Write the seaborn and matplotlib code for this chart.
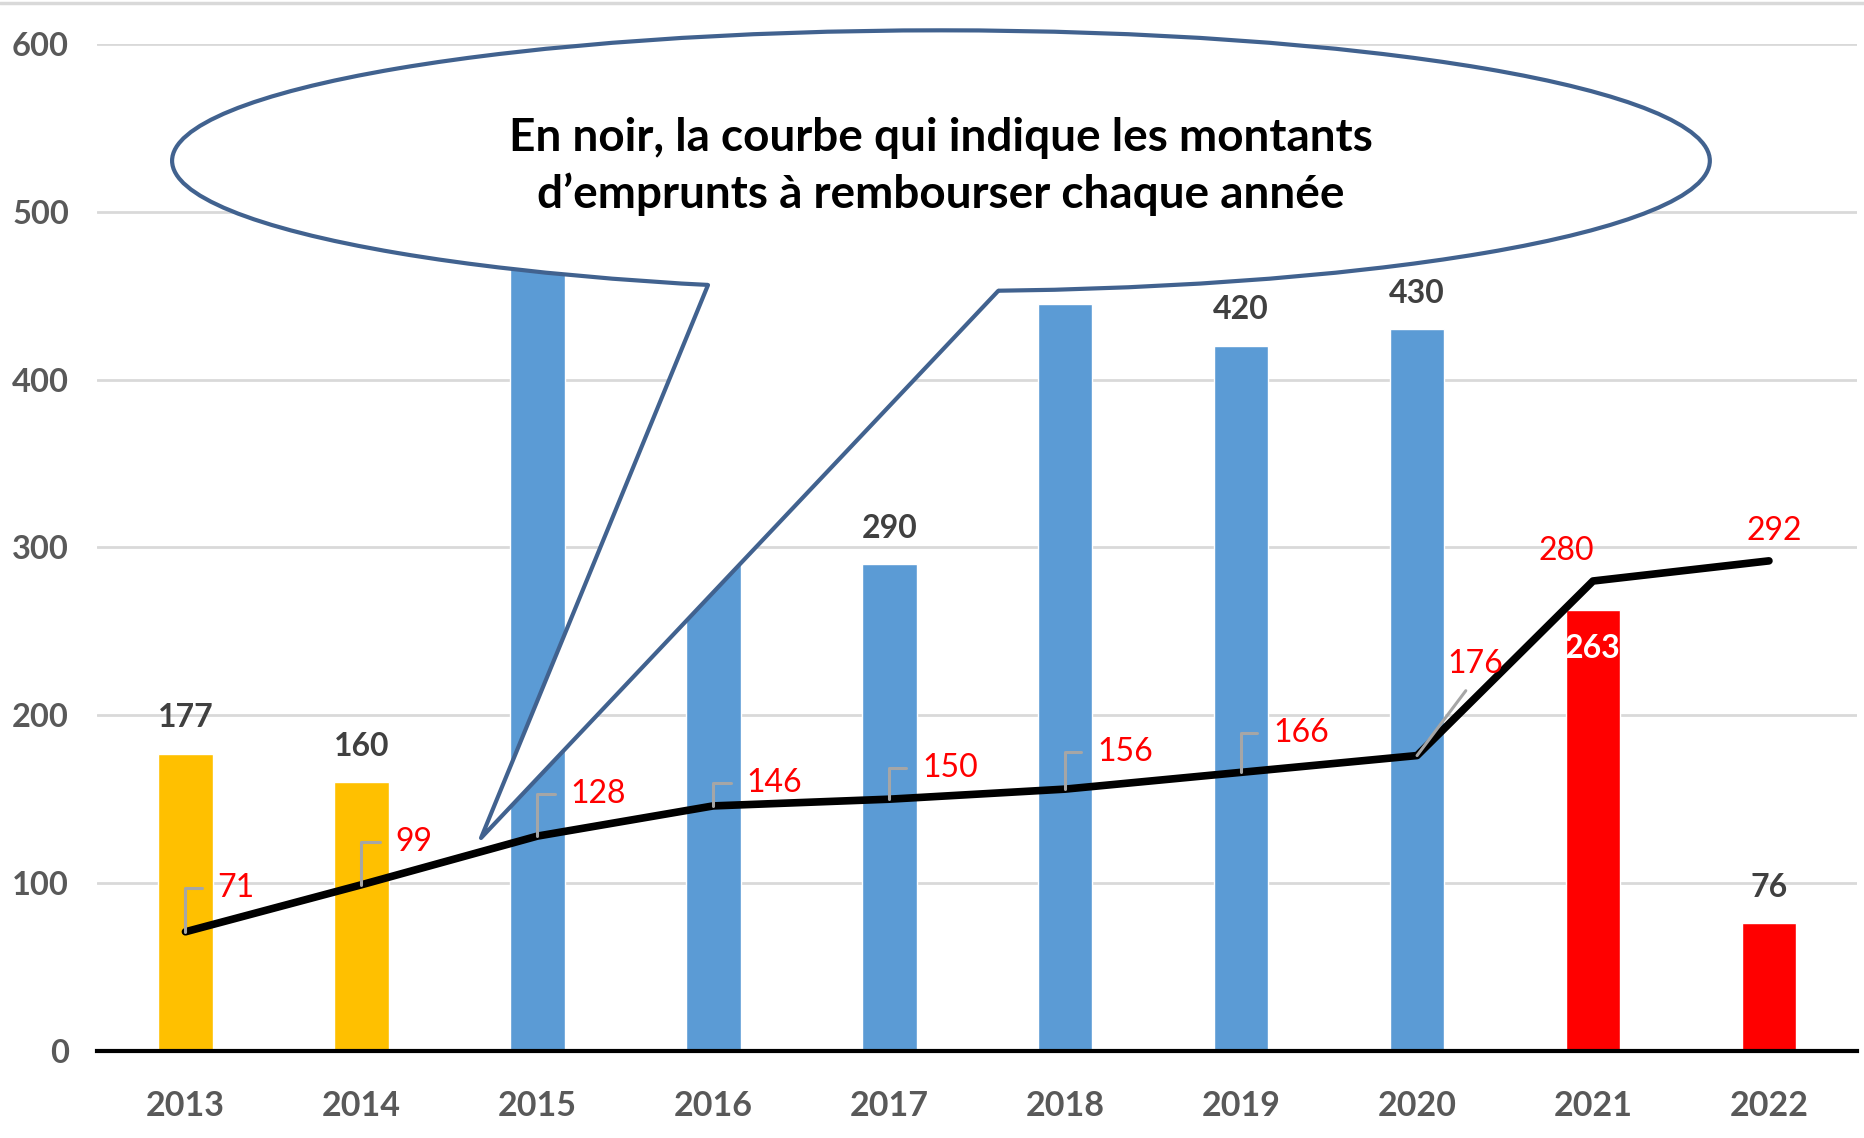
import numpy as np
import pandas as pd
import matplotlib.pyplot as plt
import seaborn as sns
from matplotlib.patches import Ellipse, Polygon
from matplotlib.lines import Line2D

sns.set_theme(style="whitegrid")
plt.rcParams['font.family'] = ['Lato', 'DejaVu Sans']

# Données
annees = ['2013', '2014', '2015', '2016', '2017', '2018', '2019', '2020', '2021', '2022']
investissements = [177, 160, 480, 330, 290, 445, 420, 430, 263, 76]
remboursements = [71, 99, 128, 146, 150, 156, 166, 176, 280, 292]

# Couleurs des barres
couleurs = ['#FFC000'] * 2 + ['#5B9BD5'] * 6 + ['#FF0000'] * 2

# Étiquettes de barres cachées par la bulle dans l'original
caches = [2, 3, 5]

# Décalage des étiquettes rouges (en pixels) et type de trait de rappel
decalages = [(32, 44), (34, 43), (33, 42), (33, 23), (33, 31), (32, 37),
             (32, 39), (30, 92), (-27, 30), (5, 30)]
rappels = ['angle'] * 7 + ['droit', None, None]

df = pd.DataFrame({'annee': annees, 'montant': investissements,
                   'rembourse': remboursements})

fig = plt.figure(figsize=(18.64, 11.38), dpi=100)
ax = fig.add_axes([0.0523, 0.0765, 0.9439, 0.8849])

# Barres
sns.barplot(data=df, x='annee', y='montant', hue='annee', palette=couleurs,
            width=0.31, saturation=1, legend=False, ax=ax, zorder=2)

# Courbe des remboursements
sns.lineplot(data=df, x='annee', y='rembourse', color='black', lw=5.5,
             sort=False, ax=ax, zorder=4,
             solid_joinstyle='round', solid_capstyle='round')

# Étiquettes des barres
for i, v in enumerate(investissements):
    if i in caches:
        continue
    if i == 8:
        ax.annotate(str(v), (i, v), xytext=(0, -28), textcoords='offset points',
                    ha='center', va='center', fontsize=23, fontweight='bold',
                    color='white', zorder=5)
    else:
        ax.annotate(str(v), (i, v), xytext=(0, 26), textcoords='offset points',
                    ha='center', va='center', fontsize=23, fontweight='bold',
                    color='#404040', zorder=3)

# Étiquettes de la courbe
for i, v in enumerate(remboursements):
    dx, dy = decalages[i]
    kind = rappels[i]
    if kind == 'angle':
        arrow = dict(arrowstyle='-', color='#A6A6A6', lw=2.2,
                     connectionstyle='angle,angleA=0,angleB=90,rad=0',
                     relpos=(0, 0.5), shrinkA=9, shrinkB=0)
        ha = 'left'
    elif kind == 'droit':
        arrow = dict(arrowstyle='-', color='#A6A6A6', lw=2.2,
                     relpos=(0.5, 0), shrinkA=8, shrinkB=0)
        ha = 'left'
    else:
        arrow = None
        ha = 'center'
    ax.annotate(str(v), (i, v), xytext=(dx * 0.72, dy * 0.72),
                textcoords='offset points', ha=ha, va='center',
                color='#FF0000', fontsize=23, arrowprops=arrow, zorder=6)

# Axes
ax.set_xlim(-0.5, 9.5)
ax.set_ylim(0, 600)
ax.set_yticks(range(0, 601, 100))
ax.set_xlabel('')
ax.set_ylabel('')
ax.xaxis.grid(False)
ax.yaxis.grid(True, color='#D9D9D9', lw=2)
ax.set_axisbelow(True)
for s in ['left', 'right', 'top']:
    ax.spines[s].set_visible(False)
ax.spines['bottom'].set_color('black')
ax.spines['bottom'].set_linewidth(3)
ax.tick_params(axis='both', length=0, labelcolor='#595959')
ax.tick_params(axis='x', pad=28, labelsize=24.5)
ax.tick_params(axis='y', pad=20.5, labelsize=23.5)
for lbl in ax.get_xticklabels() + ax.get_yticklabels():
    lbl.set_fontweight('bold')

# Bulle explicative
cx, cy, w, h = 4.294, 530.4, 8.74, 155.4
bord = '#41628F'
bulle = Ellipse((cx, cy), w, h, facecolor='white', edgecolor=bord, lw=3,
                zorder=10, clip_on=False)
ax.add_patch(bulle)

def bas_ellipse(x):
    return cy - h / 2 * np.sqrt(1 - ((x - cx) / (w / 2)) ** 2)

b1x, b2x = 2.97, 4.62
pointe = (1.68, 126.9)
b1 = (b1x, bas_ellipse(b1x))
b2 = (b2x, bas_ellipse(b2x))
fond = Polygon([b1, pointe, b2, (b2x, b2[1] + 20), (b1x, b1[1] + 20)],
               closed=True, facecolor='white', edgecolor='none', zorder=11)
ax.add_patch(fond)
ax.plot([b1[0], pointe[0], b2[0]], [b1[1], pointe[1], b2[1]], color=bord,
        lw=3, solid_joinstyle='round', zorder=12)
ax.text(cx, 527,
        'En noir, la courbe qui indique les montants\nd’emprunts à rembourser chaque année',
        ha='center', va='center', fontsize=33, fontweight='bold', color='black',
        linespacing=1.4, zorder=13)

# Cadre supérieur
fig.add_artist(Line2D([0, 1], [1 - 3 / 1138] * 2, transform=fig.transFigure,
                      color='#D9D9D9', lw=2.5))

fig.savefig('out.png', dpi=100)
